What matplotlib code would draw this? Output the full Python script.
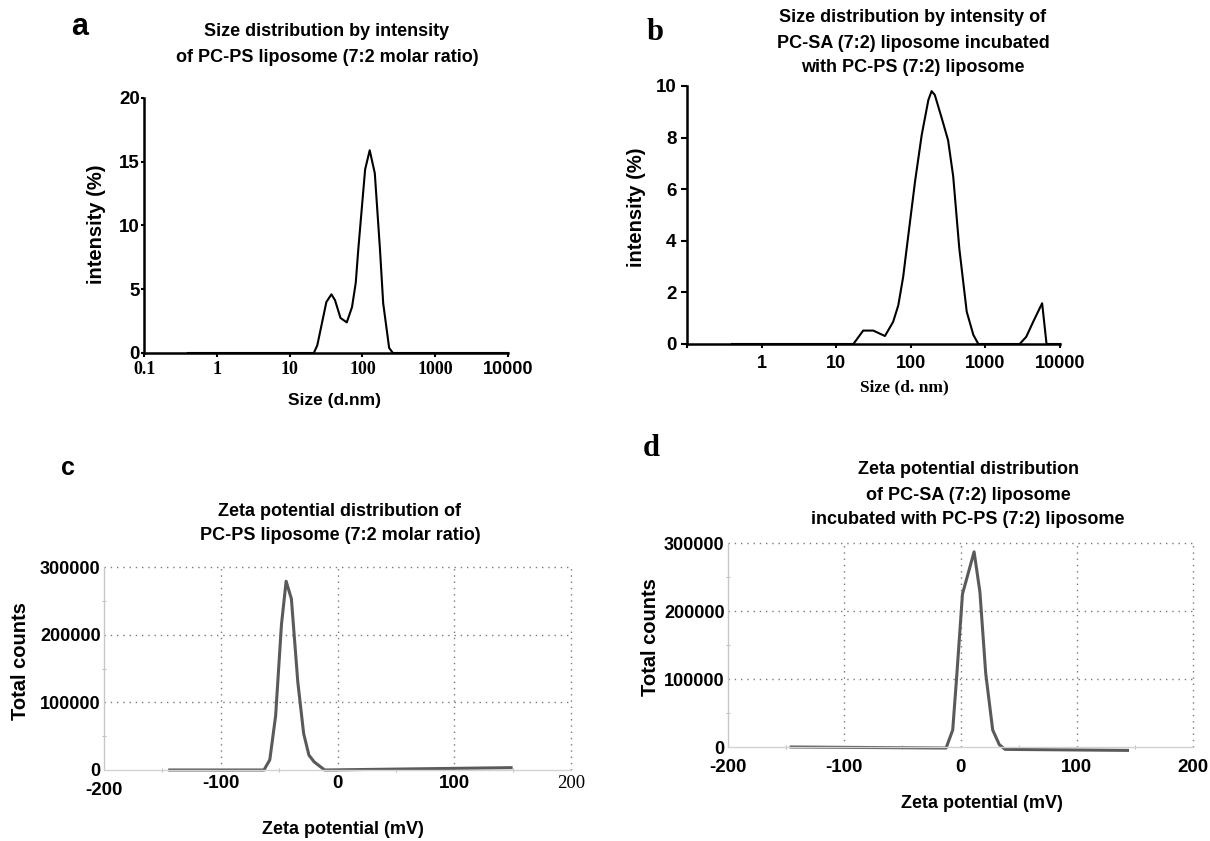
import matplotlib
matplotlib.use("Agg")
import matplotlib.pyplot as plt
from matplotlib.ticker import FixedLocator, NullLocator

# ---------------- data ----------------
size_a_nm = [0.4, 21.5, 24, 32, 37.5, 42, 50, 61, 72, 81, 88, 109, 126, 148, 174, 193, 233, 262, 10000]
intensity_a = [0, 0, 0.6, 4.0, 4.6, 4.15, 2.75, 2.4, 3.6, 5.5, 8.2, 14.4, 15.9, 14.1, 8.2, 3.9, 0.4, 0, 0]

size_b_nm = [0.4, 17, 23, 31.4, 45, 58, 68, 79, 88, 114, 140, 172, 190, 210, 257, 316, 370, 447,
             562, 690, 804, 2880, 3530, 4370, 5760, 6600, 10000]
intensity_b = [0, 0, 0.52, 0.52, 0.31, 0.86, 1.5, 2.6, 3.7, 6.3, 8.1, 9.46, 9.8, 9.65, 8.8, 7.9, 6.5, 3.7,
               1.25, 0.35, 0, 0, 0.28, 0.86, 1.58, 0, 0]

zeta_c_mv = [-145, -63, -58, -53, -48, -44, -39.5, -34, -29, -24.5, -20, -11, 150]
counts_c = [0, 0, 15000, 80000, 215000, 279000, 253000, 130000, 54000, 22000, 12000, 0, 3500]

zeta_d_mv = [-147, -12.4, -6.7, -3.3, 1.7, 11.7, 16.7, 21.7, 27.7, 33.4, 38.4, 145]
counts_d = [0, -1500, 25000, 103000, 225000, 287000, 228000, 108000, 25000, 3400, -3500, -5000]

size_ticks = [0.1, 1, 10, 100, 1000, 10000]
size_labels_a = ["0.1", "1", "10", "100", "1000", "10000"]
size_labels_b = ["", "1", "10", "100", "1000", "10000"]
int_ticks_a = [0, 5, 10, 15, 20]
int_ticks_b = [0, 2, 4, 6, 8, 10]
zeta_ticks = [-200, -100, 0, 100, 200]
zeta_labels = ["-200", "-100", "0", "100", "200"]
count_ticks = [0, 100000, 200000, 300000]
count_labels = ["0", "100000", "200000", "300000"]

title_a = ["Size distribution by intensity", "of PC-PS liposome (7:2 molar ratio)"]
title_b = ["Size distribution by intensity of", "PC-SA (7:2) liposome incubated",
           "with PC-PS (7:2) liposome"]
title_c = ["Zeta potential distribution of", "PC-PS liposome (7:2 molar ratio)"]
title_d = ["Zeta potential distribution", "of PC-SA (7:2) liposome",
           "incubated with PC-PS (7:2) liposome"]

# ---------------- layout helpers ----------------
W, H, DPI = 1210, 841, 100
SANS = "Liberation Sans"
SERIF = "Liberation Serif"
plt.rcParams["font.family"] = [SANS, "DejaVu Sans"]

fig = plt.figure(figsize=(W / DPI, H / DPI), dpi=DPI)
fig.patch.set_facecolor("white")


def rect(l, t, r, b):
    return [l / W, 1 - b / H, (r - l) / W, (b - t) / H]


def ftext(x, y, s, **kw):
    kw.setdefault("ha", "center")
    kw.setdefault("va", "center")
    fig.text(x / W, 1 - y / H, s, **kw)


TS = 13    # title size
YL = 14.5  # y-label size

# ---------------- panel a ----------------
axa = fig.add_axes(rect(144, 98, 508, 353))
axa.plot(size_a_nm, intensity_a, color="black", lw=1.5, clip_on=False)
axa.set_xscale("log")
axa.set_xlim(0.1, 10000)
axa.set_ylim(0, 20)
for s in ["top", "right"]:
    axa.spines[s].set_visible(False)
for s in ["left", "bottom"]:
    axa.spines[s].set_linewidth(1.8)
axa.xaxis.set_minor_locator(NullLocator())
axa.set_xticks(size_ticks, labels=size_labels_a, fontsize=13, fontweight="bold", fontfamily=SERIF)
axa.set_yticks(int_ticks_a, labels=[str(v) for v in int_ticks_a], fontsize=13.5, fontweight="bold")
axa.tick_params(axis="y", direction="out", length=2.5, width=1.5, pad=0.5)
axa.tick_params(axis="x", direction="out", length=3, width=1.5, pad=3)
axa.xaxis.get_major_ticks()[-1].label1.set_fontfamily(SANS)
ftext(80, 27, "a", fontsize=22, fontweight="bold")
ftext(327, 32, title_a[0], fontsize=TS, fontweight="bold")
ftext(327, 57, title_a[1], fontsize=TS, fontweight="bold")
ftext(97, 224, "intensity (%)", fontsize=YL, fontweight="bold", rotation=90)
ftext(335, 401, "Size (d.nm)", fontsize=12.5, fontweight="bold")

# ---------------- panel b ----------------
axb = fig.add_axes(rect(687, 86, 1060, 344))
axb.plot(size_b_nm, intensity_b, color="black", lw=1.5, clip_on=False)
axb.set_xscale("log")
axb.set_xlim(0.1, 10000)
axb.set_ylim(0, 10)
for s in ["top", "right"]:
    axb.spines[s].set_visible(False)
for s in ["left", "bottom"]:
    axb.spines[s].set_linewidth(1.8)
axb.xaxis.set_minor_locator(NullLocator())
axb.set_xticks(size_ticks, labels=size_labels_b, fontsize=13, fontweight="bold")
axb.set_yticks(int_ticks_b, labels=[str(v) for v in int_ticks_b], fontsize=13.5, fontweight="bold")
axb.tick_params(axis="y", direction="out", length=4.5, width=1.5, pad=3)
axb.tick_params(axis="x", direction="out", length=3, width=1.5, pad=5)
ftext(655, 32, "b", fontsize=22, fontweight="bold", fontfamily=SERIF)
for yy, line in zip([18, 43, 67], title_b):
    ftext(913, yy, line, fontsize=TS, fontweight="bold")
ftext(637, 207, "intensity (%)", fontsize=YL, fontweight="bold", rotation=90)
ftext(904, 387, "Size (d. nm)", fontsize=12.5, fontweight="bold", fontfamily=SERIF)


# ---------------- zeta panels ----------------
def zeta_axes(r, xmv, cts, xpad):
    ax = fig.add_axes(r)
    ax.plot(xmv, cts, color="#5a5a5a", lw=2.2, clip_on=False, solid_capstyle="butt")
    ax.set_xlim(-200, 200)
    ax.set_ylim(0, 300000)
    for s in ["top", "right"]:
        ax.spines[s].set_visible(False)
    ax.spines["left"].set_color("#c8c8c8")
    ax.spines["bottom"].set_color("#d2d2d2")
    ax.spines["left"].set_linewidth(1.0)
    ax.spines["bottom"].set_linewidth(1.0)
    ax.set_xticks(zeta_ticks, labels=zeta_labels, fontsize=13.5, fontweight="bold")
    ax.set_yticks(count_ticks, labels=count_labels, fontsize=13, fontweight="bold")
    ax.xaxis.set_minor_locator(FixedLocator([-150, -50, 50, 150]))
    ax.yaxis.set_minor_locator(FixedLocator([50000, 150000, 250000]))
    ax.tick_params(which="major", axis="both", length=0)
    ax.tick_params(axis="x", pad=xpad)
    ax.tick_params(axis="y", pad=2.5)
    ax.tick_params(which="minor", direction="inout", length=3, width=0.8, color="#bdbdbd")
    ax.grid(True, which="major", linestyle=(0, (1, 3.5)), color="#7a7a7a", linewidth=1.0)
    xt = ax.xaxis.get_major_ticks()
    yt = ax.yaxis.get_major_ticks()
    xt[0].gridline.set_visible(False)
    yt[0].gridline.set_visible(False)
    xt[-1].gridline.set_clip_on(False)
    yt[-1].gridline.set_clip_on(False)
    ax.set_axisbelow(True)
    return ax


axc = zeta_axes(rect(104, 567, 571, 770), zeta_c_mv, counts_c, 3.6)
ctx = axc.xaxis.get_major_ticks()
ctx[0].set_pad(8.5)
ctx[-1].label1.set_fontfamily(SERIF)
ctx[-1].label1.set_fontweight("normal")
ftext(68, 468, "c", fontsize=18, fontweight="bold")
ftext(340, 511, title_c[0], fontsize=TS, fontweight="bold")
ftext(340, 535, title_c[1], fontsize=TS, fontweight="bold")
ftext(21, 661, "Total counts", fontsize=YL, fontweight="bold", rotation=90)
ftext(343, 830, "Zeta potential (mV)", fontsize=13, fontweight="bold")

axd = zeta_axes(rect(728, 543, 1193, 747), zeta_d_mv, counts_d, 9)
ftext(651, 448, "d", fontsize=22, fontweight="bold", fontfamily=SERIF)
for yy, line in zip([470, 495, 520], title_d):
    ftext(968, yy, line, fontsize=TS, fontweight="bold")
ftext(651, 637, "Total counts", fontsize=YL, fontweight="bold", rotation=90)
ftext(982, 803, "Zeta potential (mV)", fontsize=13, fontweight="bold")

fig.savefig("out.png", dpi=DPI, facecolor="white")
